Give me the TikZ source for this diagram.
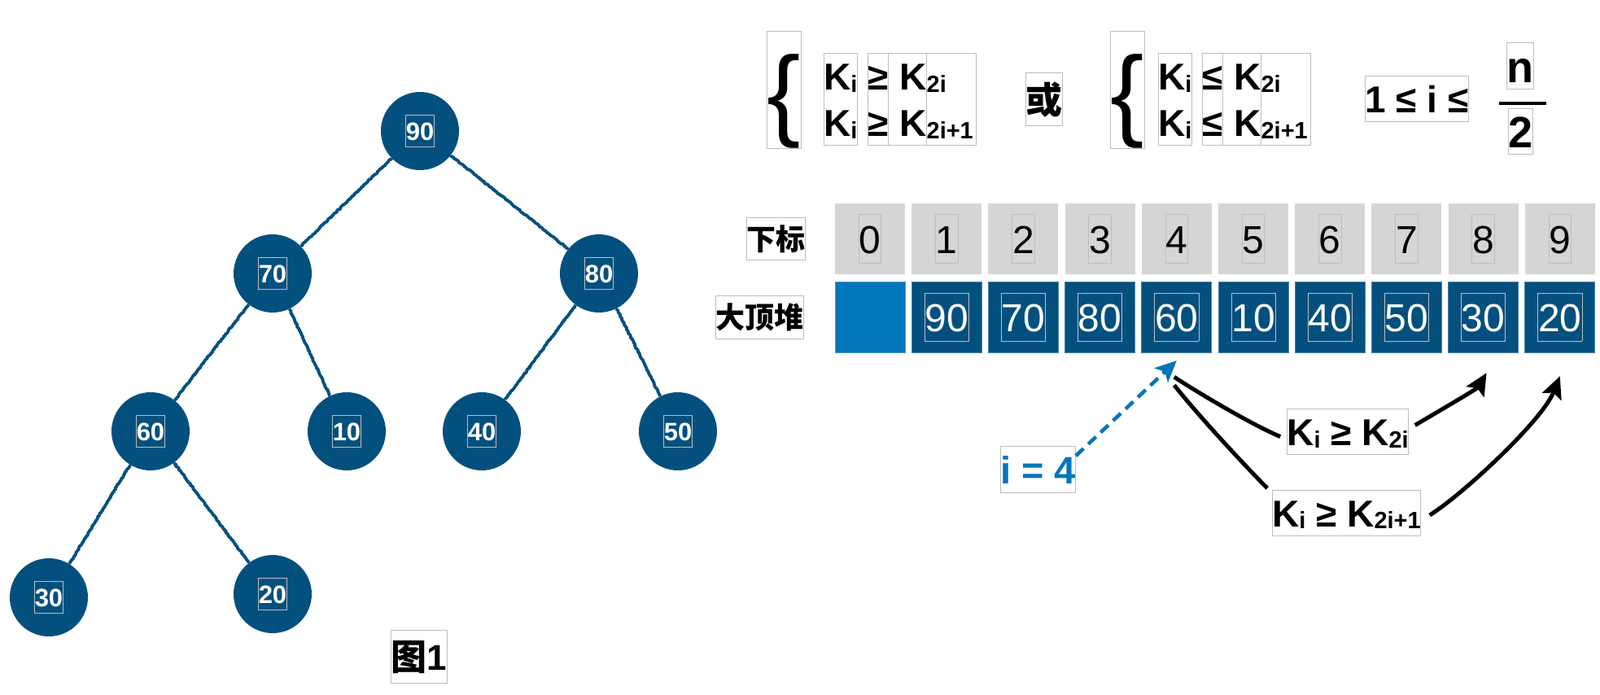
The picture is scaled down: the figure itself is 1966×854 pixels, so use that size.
\documentclass[tikz,border=0pt]{standalone}
\usepackage{fontspec}
\setmainfont{Liberation Sans}
\newfontfamily\cjk{Noto Sans CJK SC}
\usepackage{graphicx}
\usepackage{xcolor}
\usepackage{tikz}
\usetikzlibrary{positioning, arrows.meta, calc, decorations.pathmorphing}
\definecolor{heapblue}{HTML}{03507F}
\definecolor{ptrblue}{HTML}{0276BA}
\definecolor{cellgray}{HTML}{D5D5D5}
\definecolor{framegray}{HTML}{BDBDBD}
\newcommand{\latstrut}{\rule[-0.24em]{0pt}{1.22em}}
\newcommand{\cjkstrut}{\rule[-0.35em]{0pt}{1.46em}}
\newcommand{\fracstrut}{\rule[-0.15em]{0pt}{1.05em}}
\newcommand{\lowidx}[1]{\raisebox{-0.06em}{\scalebox{0.63}{#1}}}
\newcommand{\tframe}[1]{{\colorlet{tfsave}{.}\color{framegray}\fboxsep=0pt\fboxrule=0.8pt\fbox{\color{tfsave}\latstrut#1}}}
\tikzset{
  tnode/.style    = {circle, fill=heapblue, minimum size=96pt, inner sep=0pt,
                     text=white, font=\fontsize{31}{37}\selectfont\bfseries},
  tedge/.style    = {draw=heapblue, line width=3.8pt, line join=round, decorate,
                     decoration={random steps, segment length=1.5pt, amplitude=0.7pt}},
  idxcell/.style  = {rectangle, fill=cellgray, minimum width=86pt, minimum height=87pt,
                     inner sep=0pt, outer sep=0pt, font=\fontsize{48}{58}\selectfont},
  heapcell/.style = {idxcell, fill=heapblue, draw=heapblue!70!white, line width=0.8pt,
                     text=white},
  zerocell/.style = {idxcell, fill=ptrblue, draw=ptrblue!70!white, line width=0.8pt},
  txtbox/.style   = {draw=framegray, line width=0.8pt, inner sep=0pt, outer sep=0pt},
  fml/.style      = {txtbox, font=\fontsize{46}{56}\selectfont\bfseries, align=left},
  brc/.style      = {txtbox, font=\fontsize{124}{124}\selectfont,
                     text height=117.7pt, text depth=26.7pt},
  rowlbl/.style   = {txtbox, font=\cjk\bfseries\fontsize{36}{44}\selectfont},
  ptrarrow/.style = {draw=ptrblue, line width=4.5pt, dash pattern=on 13pt off 8pt,
                     -{Stealth[length=26pt,width=24pt,inset=6pt]}},
  cmpline/.style  = {draw=black, line width=5pt},
  cmparrow/.style = {cmpline, -{Stealth[length=27pt,width=25pt,inset=5pt]}},
}
\begin{document}
\begin{tikzpicture}[x=1pt, y=-1pt]
  \useasboundingbox (0,0) rectangle (1966,854);

  % LEFT: tree
  \node[tnode] (t90) at (516,161) {\tframe{90}};
  \node[tnode] (t70) at (335,336) {\tframe{70}};
  \node[tnode] (t80) at (736,336) {\tframe{80}};
  \node[tnode] (t60) at (185,530) {\tframe{60}};
  \node[tnode] (t10) at (426,530) {\tframe{10}};
  \node[tnode] (t40) at (592,530) {\tframe{40}};
  \node[tnode] (t50) at (833,530) {\tframe{50}};
  \node[tnode] (t30) at (60,734) {\tframe{30}};
  \node[tnode] (t20) at (335,730) {\tframe{20}};

  \draw[tedge] (t90) -- (t70);
  \draw[tedge] (t90) -- (t80);
  \draw[tedge] (t70) -- (t60);
  \draw[tedge] (t70) -- (t10);
  \draw[tedge] (t80) -- (t40);
  \draw[tedge] (t80) -- (t50);
  \draw[tedge] (t60) -- (t30);
  \draw[tedge] (t60) -- (t20);

  \node[txtbox, font=\fontsize{44}{50}\selectfont\bfseries] (cap) at (515,807)
       {\cjkstrut{\cjk 图}1};

  % TOP: heap conditions
  \node[brc] (brL) at (963.4,110.5) {\{};
  \node[fml, right=28pt of brL, yshift=-11.5pt] (kL)
       {\latstrut K\lowidx{i}\\\latstrut K\lowidx{i}};
  \node[fml, right=13pt of kL] (relL) {\latstrut ≥\\\latstrut ≥};
  \node[fml, right=0pt of relL] (kkL)
       {\latstrut\hspace*{0.3em}K\\\latstrut\hspace*{0.3em}K};
  \node[fml, right=0pt of kkL, text width=61pt] (subL)
       {\latstrut\lowidx{2i}\\\latstrut\lowidx{2i+1}};

  \node[txtbox, font=\cjk\bfseries\fontsize{45}{50}\selectfont, right=61pt of subL] (huo)
       {\cjkstrut 或};

  \node[brc, right=59pt of huo, yshift=11.5pt] (brR) {\{};
  \node[fml, right=17pt of brR, yshift=-11.5pt] (kR)
       {\latstrut K\lowidx{i}\\\latstrut K\lowidx{i}};
  \node[fml, right=13pt of kR] (relR) {\latstrut ≤\\\latstrut ≤};
  \node[fml, right=0pt of relR] (kkR)
       {\latstrut\hspace*{0.3em}K\\\latstrut\hspace*{0.3em}K};
  \node[fml, right=0pt of kkR, text width=61pt] (subR)
       {\latstrut\lowidx{2i}\\\latstrut\lowidx{2i+1}};

  \node[fml, right=67pt of subR, yshift=1pt] (rng) {\latstrut 1 ≤ i ≤};
  \node[fill=black, minimum width=58pt, minimum height=4pt, inner sep=0pt] (fbar)
       at (1871,126.7) {};
  \node[txtbox, font=\fontsize{54}{60}\selectfont\bfseries, above=15pt of fbar,
        xshift=-3pt] (fn) {\fracstrut n};
  \node[txtbox, font=\fontsize{54}{60}\selectfont\bfseries, below=4pt of fbar,
        xshift=-3pt] (fd) {\fracstrut 2};

  % MIDDLE: index row and heap row
  \node[idxcell] (idx0) at (1069,293.4) {\tframe{0}};
  \node[idxcell, right=8.2pt of idx0] (idx1) {\tframe{1}};
  \node[idxcell, right=8.2pt of idx1] (idx2) {\tframe{2}};
  \node[idxcell, right=8.2pt of idx2] (idx3) {\tframe{3}};
  \node[idxcell, right=8.2pt of idx3] (idx4) {\tframe{4}};
  \node[idxcell, right=8.2pt of idx4] (idx5) {\tframe{5}};
  \node[idxcell, right=8.2pt of idx5] (idx6) {\tframe{6}};
  \node[idxcell, right=8.2pt of idx6] (idx7) {\tframe{7}};
  \node[idxcell, right=8.2pt of idx7] (idx8) {\tframe{8}};
  \node[idxcell, right=8.2pt of idx8] (idx9) {\tframe{9}};

  \node[zerocell, below=9.3pt of idx0] (heap0) {};
  \node[heapcell, right=8.2pt of heap0] (heap1) {\tframe{90}};
  \node[heapcell, right=8.2pt of heap1] (heap2) {\tframe{70}};
  \node[heapcell, right=8.2pt of heap2] (heap3) {\tframe{80}};
  \node[heapcell, right=8.2pt of heap3] (heap4) {\tframe{60}};
  \node[heapcell, right=8.2pt of heap4] (heap5) {\tframe{10}};
  \node[heapcell, right=8.2pt of heap5] (heap6) {\tframe{40}};
  \node[heapcell, right=8.2pt of heap6] (heap7) {\tframe{50}};
  \node[heapcell, right=8.2pt of heap7] (heap8) {\tframe{30}};
  \node[heapcell, right=8.2pt of heap8] (heap9) {\tframe{20}};

  \node[rowlbl, left=37pt of idx0] (lblidx) {\cjkstrut 下标};
  \node[rowlbl, left=38.6pt of heap0] (lblheap) {\cjkstrut 大顶堆};

  % BOTTOM: i = 4 and its children
  \node[txtbox, text=ptrblue, font=\fontsize{47}{56}\selectfont\bfseries] (ilbl)
       at (1275.5,577) {\latstrut i = 4};
  \coordinate (ptr) at ($(heap4.south)+(0,10)$);
  \draw[ptrarrow] (ilbl.20) -- (ptr);

  \node[fml] (kgt1) at (1656,530.5) {\latstrut K\lowidx{i} ≥ K\lowidx{2i}};
  \node[fml] (kgt2) at (1654.5,630) {\latstrut K\lowidx{i} ≥ K\lowidx{2i+1}};
  \coordinate (src1) at ($(heap4.south)+(-3,30)$);
  \coordinate (src2) at ($(heap4.south)+(-3,40)$);
  \coordinate (dst1) at ($(heap8.south)+(4,25)$);
  \coordinate (dst2) at ($(heap9.south)+(0,29)$);

  \draw[cmpline] (src1) .. controls +(30,20) and +(-30,-12) .. ([xshift=-8pt,yshift=-6pt]kgt1.west);
  \draw[cmparrow] ([xshift=8pt,yshift=8pt]kgt1.east) .. controls +(25,-15) and +(-12,20) .. (dst1);
  \draw[cmpline] (src2) .. controls +(30,38) and +(-25,-25) .. ([xshift=-6pt,yshift=2pt]kgt2.north west);
  \draw[cmparrow] ([xshift=11pt,yshift=-3pt]kgt2.east) .. controls +(40,-25) and +(-22,55) .. (dst2);

\end{tikzpicture}
\end{document}
